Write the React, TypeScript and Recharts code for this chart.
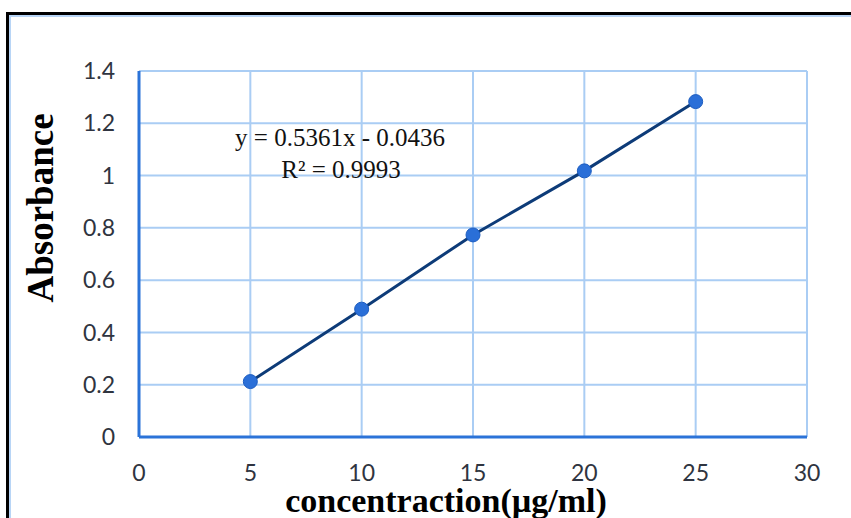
import React from "react";
import { LineChart, Line, XAxis, YAxis, CartesianGrid } from "recharts";

const concentrations = [5, 10, 15, 20, 25];
const absorbances = [0.212, 0.489, 0.773, 1.018, 1.283];
const xTicks = [0, 5, 10, 15, 20, 25, 30];
const yTicks = [0, 0.2, 0.4, 0.6, 0.8, 1, 1.2, 1.4];
const equationText = "y = 0.5361x - 0.0436";
const r2Text = "R² = 0.9993";
const xTitle = "concentraction(µg/ml)";
const yTitle = "Absorbance";

const data = concentrations.map((c, i) => ({ x: c, y: absorbances[i] }));

const tickStyle = { fontFamily: "Lato, 'Open Sans', sans-serif", fontSize: 23, fill: "#2f3440" };

export default function App() {
  return (
    <div style={{ position: "absolute", left: 0, top: 0, width: 851, height: 518, overflow: "hidden", background: "#fff" }}>
      <div
        style={{
          position: "absolute",
          left: 6,
          top: 12,
          width: 900,
          height: 600,
          borderTop: "3px solid #000",
          borderLeft: "3px solid #000",
        }}
      >
        <div
          style={{
            position: "absolute",
            left: 0,
            top: 0,
            width: 900,
            height: 600,
            borderTop: "2px solid #b8d5f6",
            borderLeft: "2px solid #b8d5f6",
          }}
        />
      </div>
      <div style={{ position: "absolute", left: 0, top: 0 }}>
        <LineChart width={851} height={518} data={data} margin={{ top: 71, right: 44, bottom: 21, left: 0 }}>
          <CartesianGrid stroke="#aacdf4" strokeWidth={2} horizontalValues={yTicks} verticalValues={xTicks} />
          <XAxis
            dataKey="x"
            type="number"
            domain={[0, 30]}
            ticks={xTicks}
            height={60}
            tickLine={false}
            tickSize={0}
            tickMargin={28}
            axisLine={{ stroke: "#2b73d8", strokeWidth: 3 }}
            tick={tickStyle}
          />
          <YAxis
            dataKey="y"
            type="number"
            domain={[0, 1.4]}
            ticks={yTicks}
            width={139}
            tickLine={false}
            tickSize={0}
            tickMargin={24}
            axisLine={{ stroke: "#2b73d8", strokeWidth: 3 }}
            tick={tickStyle}
          />
          <Line
            dataKey="y"
            stroke="#0d3b78"
            strokeWidth={3}
            isAnimationActive={false}
            dot={{ r: 7, fill: "#2a6fd8", stroke: "#1c5cc0", strokeWidth: 1 }}
          />
          <text x={340} y={146} textAnchor="middle" fontFamily="'Liberation Serif', serif" fontSize={25} fill="#111">
            {equationText}
          </text>
          <text x={341} y={178} textAnchor="middle" fontFamily="'Liberation Serif', serif" fontSize={25} fill="#111">
            {r2Text}
          </text>
          <text
            x={53}
            y={208}
            textAnchor="middle"
            transform="rotate(-90 53 208)"
            fontFamily="'Liberation Serif', serif"
            fontWeight="bold"
            fontSize={37}
            fill="#000"
          >
            {yTitle}
          </text>
          <text x={446} y={512} textAnchor="middle" fontFamily="'Liberation Serif', serif" fontWeight="bold" fontSize={34} fill="#000">
            {xTitle}
          </text>
        </LineChart>
      </div>
    </div>
  );
}
